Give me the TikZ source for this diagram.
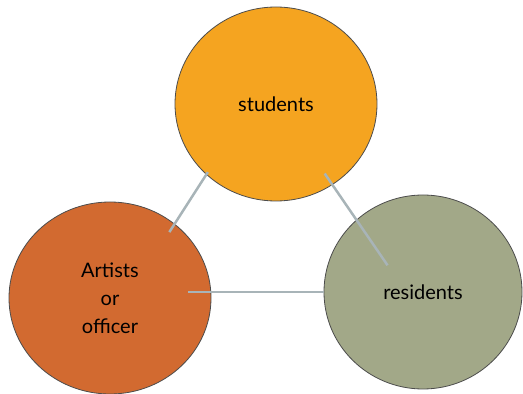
\documentclass[tikz,border=0pt]{standalone}
\usepackage{fontspec}
\setsansfont{Lato}
\usepackage{xcolor}
\usepackage{tikz}
\definecolor{studorange}{RGB}{245,164,32}
\definecolor{artbrown}{RGB}{210,106,48}
\definecolor{resgreen}{RGB}{162,168,136}
\definecolor{linkgrey}{RGB}{168,180,184}
\tikzset{>=latex,
    group/.style={ellipse, draw=black!70, line width=0.8pt, align=center, inner sep=0pt,
      font=\sffamily\fontsize{20}{28}\selectfont},
    link/.style={draw=linkgrey, line width=2.5pt}}
\usetikzlibrary{shapes.geometric,calc}

\begin{document}
\begin{tikzpicture}[x=1pt,y=1pt]
    \useasboundingbox (0,0) rectangle (523,394);
    \node[group, fill=studorange, minimum width=202pt, minimum height=194pt] (stu) at (276,290) {students};
    \node[group, fill=artbrown, minimum width=202pt, minimum height=192pt] (art) at (110,96) {Artists\\or\\officer};
    \node[group, fill=resgreen, minimum width=198pt, minimum height=194pt] (res) at (423,102) {residents};
    % connectors
    \coordinate (artin) at ($(art.center)!0.77!(art.east)$);
    \draw[link] ($(stu.center)!0.97!(stu.225)$) -- ($(art.center)!0.9!(art.48)$);
    \draw[link] ($(stu.center)!0.86!(stu.305)$) -- ($(res.center)!0.45!(res.143)$);
    \draw[link] (artin |- res.west) -- (res.west);
\end{tikzpicture}
\end{document}
